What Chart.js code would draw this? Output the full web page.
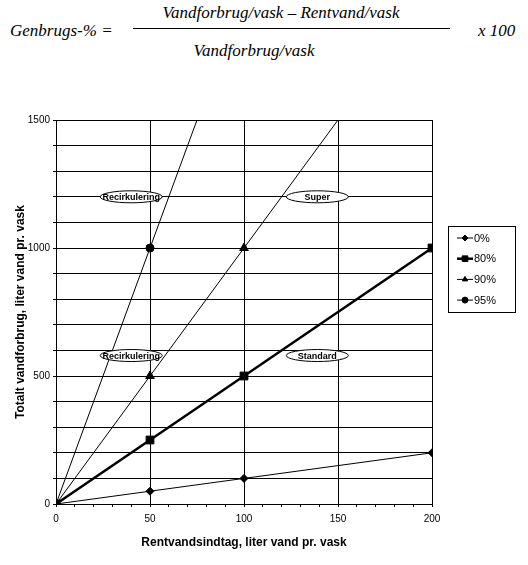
<!DOCTYPE html>
<html>
<head>
<meta charset="utf-8">
<script src="https://cdn.jsdelivr.net/npm/chart.js@4/dist/chart.umd.min.js"></script>
<style>
body { margin: 0; background: #fff; }
#wrap { position: relative; width: 528px; height: 565px; overflow: hidden; }
.f { position: absolute; font-family: "Liberation Serif", "DejaVu Serif", serif; font-style: italic; font-size: 17px; line-height: 17px; white-space: nowrap; color: #000; }
</style>
</head>
<body>
<div id="wrap">
  <div class="f" style="left:10px;top:22px">Genbrugs-% =</div>
  <div class="f" style="left:281px;top:4px;transform:translateX(-50%)">Vandforbrug/vask – Rentvand/vask</div>
  <div style="position:absolute;left:133px;top:28px;width:317px;height:1px;background:#000"></div>
  <div class="f" style="left:254px;top:42px;transform:translateX(-50%)">Vandforbrug/vask</div>
  <div class="f" style="left:478px;top:22px">x 100</div>
  <canvas id="c" width="528" height="565" style="position:absolute;left:0;top:0"></canvas>
</div>
<script>
// rentvandsindtag (x) og totalt vandforbrug ved forskellige genbrugs-%
const intake = [0, 50, 100, 200];
const pct0 = [0, 50, 100, 200];
const pct80 = [0, 250, 500, 1000];
const pct90 = [0, 500, 1000, 2000];
const pct95 = [0, 1000, 2000, 4000];
const seriesNames = ['0%', '80%', '90%', '95%'];
const xTicks = [0, 50, 100, 150, 200];
const yTicks = [0, 500, 1000, 1500];

const notes = [
    { text: 'Recirkulering', x: 40, y: 1200 },
    { text: 'Super', x: 139, y: 1200 },
    { text: 'Recirkulering', x: 40, y: 580 },
    { text: 'Standard', x: 139, y: 580 }
];

const sans = '"Liberation Sans", Arial, sans-serif';

function pts(ys) {
    return intake.map((x, i) => ({ x: x, y: ys[i] }));
}

function ds(label, ys, style, r, bw) {
    return {
        label: label,
        data: pts(ys),
        showLine: true,
        borderColor: '#000',
        backgroundColor: '#000',
        borderWidth: bw,
        pointStyle: style,
        pointRadius: r,
        pointBorderColor: '#000',
        pointBackgroundColor: '#000',
        pointBorderWidth: 1,
        pointHoverRadius: r
    };
}

const notesPlugin = {
    id: 'notes',
    afterDatasetsDraw(chart) {
        const c = chart.ctx;
        const xs = chart.scales.x, ys = chart.scales.y;
        c.save();
        for (const n of notes) {
            const px = xs.getPixelForValue(n.x);
            const py = ys.getPixelForValue(n.y);
            c.beginPath();
            c.ellipse(px, py, 31, 6, 0, 0, Math.PI * 2);
            c.fillStyle = '#fff';
            c.fill();
            c.lineWidth = 1;
            c.strokeStyle = '#000';
            c.stroke();
            c.fillStyle = '#000';
            c.font = 'bold 9px ' + sans;
            c.textAlign = 'center';
            c.textBaseline = 'middle';
            c.fillText(n.text, px, py + 0.5);
        }
        c.restore();
    }
};

const legendPlugin = {
    id: 'boxLegend',
    afterDraw(chart) {
        const c = chart.ctx;
        c.save();
        c.fillStyle = '#fff';
        c.fillRect(448.5, 226.5, 67, 86);
        c.strokeStyle = '#000';
        c.lineWidth = 1;
        c.strokeRect(448.5, 226.5, 67, 86);
        chart.data.datasets.forEach((d, i) => {
            const y = 238 + i * 20.7;
            c.beginPath();
            c.moveTo(457, y);
            c.lineTo(473, y);
            c.lineWidth = d.borderWidth;
            c.strokeStyle = '#000';
            c.stroke();
            c.fillStyle = '#000';
            c.lineWidth = 1;
            Chart.helpers.drawPoint(c, { pointStyle: d.pointStyle, radius: d.pointStyle === 'rect' ? 4 : 3, rotation: 0, borderWidth: 1 }, 465, y);
            c.font = '11px ' + sans;
            c.textAlign = 'left';
            c.textBaseline = 'middle';
            c.fillText(d.label, 474, y + 0.5);
        });
        c.restore();
    }
};

new Chart(document.getElementById('c'), {
    type: 'scatter',
    data: {
        datasets: [
            ds(seriesNames[0], pct0, 'rectRot', 4, 1),
            ds(seriesNames[1], pct80, 'rect', 5.5, 2.5),
            ds(seriesNames[2], pct90, 'triangle', 5, 1),
            ds(seriesNames[3], pct95, 'circle', 4, 1)
        ]
    },
    options: {
        responsive: false,
        animation: false,
        devicePixelRatio: 1,
        layout: { padding: { left: 0, top: 120, right: 96, bottom: 0 } },
        plugins: { legend: { display: false }, tooltip: { enabled: false } },
        scales: {
            x: {
                type: 'linear',
                min: 0,
                max: 200,
                afterFit: s => { s.height = 61; },
                ticks: {
                    stepSize: 10,
                    autoSkip: false,
                    maxRotation: 0,
                    padding: 6,
                    color: '#000',
                    font: { family: sans, size: 10 },
                    callback: v => xTicks.includes(v) ? String(v) : ''
                },
                grid: {
                    color: c => (c.tick && xTicks.includes(c.tick.value)) ? '#000' : 'rgba(0,0,0,0)',
                    tickColor: '#000',
                    tickLength: 3,
                    lineWidth: 1
                },
                border: { color: '#000', width: 1 },
                title: {
                    display: true,
                    text: 'Rentvandsindtag, liter vand pr. vask',
                    color: '#000',
                    font: { family: sans, size: 12, weight: 'bold' },
                    padding: { top: 0, bottom: 15 }
                }
            },
            y: {
                min: 0,
                max: 1500,
                afterFit: s => { s.width = 56; },
                ticks: {
                    stepSize: 100,
                    autoSkip: false,
                    padding: 3,
                    color: '#000',
                    font: { family: sans, size: 10 },
                    callback: v => yTicks.includes(v) ? String(v) : ''
                },
                grid: {
                    color: '#000',
                    tickColor: '#000',
                    tickLength: 3,
                    lineWidth: 1
                },
                border: { color: '#000', width: 1 },
                title: {
                    display: true,
                    text: 'Totalt vandforbrug, liter vand pr. vask',
                    color: '#000',
                    font: { family: sans, size: 12, weight: 'bold' },
                    padding: { top: 13, bottom: 0 }
                }
            }
        }
    },
    plugins: [notesPlugin, legendPlugin]
});
</script>
</body>
</html>
